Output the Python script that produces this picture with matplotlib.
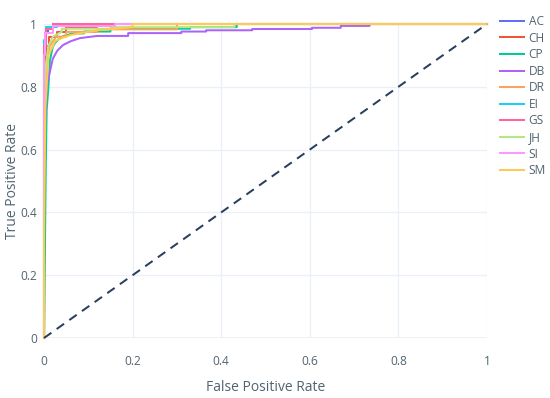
import matplotlib
matplotlib.use("Agg")
import matplotlib.pyplot as plt

labels = ["AC", "CH", "CP", "DB", "DR", "EI", "GS", "JH", "SI", "SM"]
colors = ["#636efa", "#EF553B", "#00cc96", "#ab63fa", "#FFA15A",
          "#19d3f3", "#FF6692", "#B6E880", "#FF97FF", "#FECB52"]

fpr_AC = [0, 0, 0.002, 0.002, 0.008, 0.008, 0.02, 0.02, 1]
tpr_AC = [0, 0.85, 0.85, 0.97, 0.97, 0.99, 0.99, 1.0, 1]

fpr_CH = [0, 0, 0.004, 0.004, 0.012, 0.012, 0.03, 0.03, 0.05, 0.05, 0.12, 0.12, 1]
tpr_CH = [0, 0.80, 0.80, 0.93, 0.93, 0.96, 0.96, 0.975, 0.975, 0.99, 0.99, 1.0, 1]

fpr_CP = [0, 0.004, 0.006, 0.010, 0.0135, 0.02, 0.025, 0.036, 0.045, 0.065, 0.09, 0.09, 0.15, 0.15,
          0.33, 0.33, 0.435, 0.435, 1]
tpr_CP = [0, 0.55, 0.726, 0.80, 0.885, 0.928, 0.94, 0.955, 0.962, 0.97, 0.970, 0.976, 0.976, 0.985,
          0.985, 0.99, 0.99, 1.0, 1]

fpr_DB = [0, 0, 0.006, 0.0135, 0.02, 0.03, 0.043, 0.06, 0.081, 0.12, 0.19, 0.19, 0.31, 0.31,
          0.366, 0.366, 0.47, 0.47, 0.605, 0.605, 0.67, 0.67, 0.735, 0.735, 1]
tpr_DB = [0, 0.60, 0.80, 0.85, 0.89, 0.915, 0.933, 0.945, 0.955, 0.962, 0.962, 0.971, 0.971, 0.976,
          0.976, 0.980, 0.980, 0.984, 0.984, 0.988, 0.988, 0.994, 0.994, 1.0, 1]

fpr_DR = [0, 0, 0.002, 0.006, 0.013, 0.028, 0.05, 0.05, 0.12, 0.12, 0.30, 0.30, 1]
tpr_DR = [0, 0.70, 0.83, 0.88, 0.93, 0.96, 0.96, 0.975, 0.975, 0.983, 0.983, 1.0, 1]

fpr_EI = [0, 0, 0.005, 0.005, 0.03, 0.03, 1]
tpr_EI = [0, 0.95, 0.95, 0.99, 0.99, 1.0, 1]

fpr_GS = [0, 0, 0.004, 0.004, 0.02, 0.02, 1]
tpr_GS = [0, 0.93, 0.93, 0.985, 0.985, 1.0, 1]

fpr_JH = [0, 0, 0.005, 0.01, 0.02, 0.04, 0.04, 0.15, 0.15, 0.43, 0.43, 1]
tpr_JH = [0, 0.75, 0.88, 0.93, 0.96, 0.975, 0.985, 0.985, 0.99, 0.99, 1.0, 1]

fpr_SI = [0, 0, 0.003, 0.003, 0.02, 0.02, 0.16, 0.16, 1]
tpr_SI = [0, 0.90, 0.90, 0.97, 0.97, 0.995, 0.995, 1.0, 1]

fpr_SM = [0, 0, 0.003, 0.01, 0.025, 0.04, 0.06, 0.06, 0.12, 0.12, 0.20, 0.20, 1]
tpr_SM = [0, 0.30, 0.73, 0.90, 0.945, 0.955, 0.965, 0.965, 0.98, 0.98, 0.99, 1.0, 1]

fprs = [fpr_AC, fpr_CH, fpr_CP, fpr_DB, fpr_DR, fpr_EI, fpr_GS, fpr_JH, fpr_SI, fpr_SM]
tprs = [tpr_AC, tpr_CH, tpr_CP, tpr_DB, tpr_DR, tpr_EI, tpr_GS, tpr_JH, tpr_SI, tpr_SM]

diag_x = [0, 1]
diag_y = [0, 1]

ticks = [0, 0.2, 0.4, 0.6, 0.8, 1]
ticklabels = ["0", "0.2", "0.4", "0.6", "0.8", "1"]

txt = "#506470"
plt.rcParams["font.family"] = ["Open Sans", "DejaVu Sans"]

fig = plt.figure(figsize=(5.5, 3.98), dpi=100)
ax = fig.add_axes([44 / 550, 60 / 398, 443 / 550, 314 / 398])

lw = 1.45
for f, t, lab, c in zip(fprs, tprs, labels, colors):
    ax.plot(f, t, color=c, lw=lw, label=lab, solid_joinstyle="round", clip_on=False, zorder=3)

ax.plot(diag_x, diag_y, color="#2a3f5f", lw=1.45, linestyle=(0, (4.5, 3.2)), clip_on=False, zorder=4)

ax.set_xlim(0, 1)
ax.set_ylim(0, 1)
ax.set_xticks(ticks)
ax.set_xticklabels(ticklabels)
ax.set_yticks(ticks)
ax.set_yticklabels(ticklabels)
ax.tick_params(length=0, labelsize=8.6, labelcolor=txt, pad=5)
ax.tick_params(axis="x", pad=12)
ax.grid(True, color="#EBF0F8", lw=1)
ax.axhline(0, color="#EBF0F8", lw=2, zorder=1)
ax.axvline(0, color="#EBF0F8", lw=2, zorder=1)
ax.set_axisbelow(True)
for s in ax.spines.values():
    s.set_visible(False)

ax.set_xlabel("False Positive Rate", fontsize=10, color=txt, labelpad=9)
fig.text(13 / 550, 1 - 181 / 398, "True Positive Rate", fontsize=10, color=txt,
         rotation=90, ha="center", va="center")

leg = fig.legend(loc="upper left", bbox_to_anchor=(500 / 550, 1 - 15 / 398),
                 frameon=False, fontsize=8.6, handlelength=2.0, handletextpad=0.4,
                 labelspacing=0.3, borderaxespad=0, borderpad=0)
for t in leg.get_texts():
    t.set_color(txt)
for h in leg.get_lines():
    h.set_linewidth(1.45)

fig.savefig("out.png", dpi=100, facecolor="white")
